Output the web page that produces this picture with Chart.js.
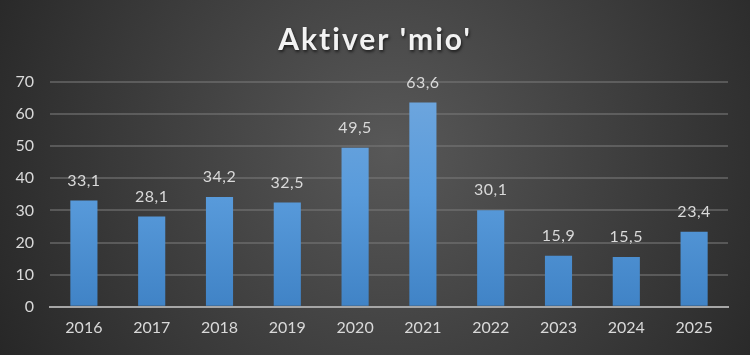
<!DOCTYPE html>
<html>
<head>
<meta charset="utf-8">
<script src="https://cdn.jsdelivr.net/npm/chart.js@4"></script>
<style>
  html, body { margin: 0; padding: 0; background: #3a3a3a; }
  #wrap { width: 750px; height: 355px; }
</style>
</head>
<body>
<div id="wrap"><canvas id="myChart"></canvas></div>
<script>
const years = ['2016', '2017', '2018', '2019', '2020', '2021', '2022', '2023', '2024', '2025'];
const aktiver = [33.1, 28.1, 34.2, 32.5, 49.5, 63.6, 30.1, 15.9, 15.5, 23.4];
const yTicks = [0, 10, 20, 30, 40, 50, 60, 70];
const chartTitle = "Aktiver 'mio'";

const fontFam = "Lato, 'Open Sans', sans-serif";

// dark radial background
const bgPlugin = {
    id: 'bg',
    beforeDraw(chart) {
        const c = chart.ctx, w = chart.width, h = chart.height;
        const g = c.createRadialGradient(w * 0.52, h * 0.42, 0, w * 0.52, h * 0.42, w * 0.6);
        g.addColorStop(0, '#585858');
        g.addColorStop(1, '#262626');
        c.save();
        c.fillStyle = g;
        c.fillRect(0, 0, w, h);
        c.restore();
    }
};

// title with shadow and letter spacing
const titlePlugin = {
    id: 'ttl',
    afterDraw(chart) {
        const c = chart.ctx;
        c.save();
        c.font = 'bold 30px ' + fontFam;
        if ('letterSpacing' in c) c.letterSpacing = '2px';
        c.fillStyle = '#f2f2f2';
        c.textAlign = 'center';
        c.textBaseline = 'middle';
        c.shadowColor = 'rgba(0,0,0,0.6)';
        c.shadowOffsetX = 1;
        c.shadowOffsetY = 2;
        c.shadowBlur = 3;
        c.fillText(chartTitle, chart.width / 2, 40);
        c.restore();
    }
};

// value labels above bars
const labelPlugin = {
    id: 'vals',
    afterDatasetsDraw(chart) {
        const c = chart.ctx;
        const meta = chart.getDatasetMeta(0);
        c.save();
        c.font = '16px ' + fontFam;
        if ('letterSpacing' in c) c.letterSpacing = '0.5px';
        c.fillStyle = '#d9d9d9';
        c.textAlign = 'center';
        c.textBaseline = 'bottom';
        meta.data.forEach((bar, i) => {
            c.fillText(aktiver[i].toFixed(1).replace('.', ','), bar.x, bar.y - 12);
        });
        c.restore();
    }
};

const ctx = document.getElementById('myChart');

var myChart = new Chart(ctx, {
    type: 'bar',
    data: {
        labels: years,
        datasets: [{
            label: 'Aktiver',
            data: aktiver,
            backgroundColor: function (context) {
                const area = context.chart.chartArea;
                if (!area) return '#5b9bd5';
                const g = context.chart.ctx.createLinearGradient(0, area.top, 0, area.bottom);
                g.addColorStop(0, '#70a7de');
                g.addColorStop(0.5, '#599bdb');
                g.addColorStop(1, '#4083c6');
                return g;
            },
            borderWidth: 0,
            categoryPercentage: 1,
            barPercentage: 0.4
        }]
    },
    options: {
        responsive: true,
        maintainAspectRatio: false,
        animation: false,
        layout: { padding: { left: 8, right: 22, top: 82, bottom: 15 } },
        plugins: {
            legend: { display: false },
            tooltip: { enabled: false },
            title: { display: false }
        },
        scales: {
            x: {
                grid: { display: false },
                border: { display: true, color: '#a6a6a6', width: 2 },
                ticks: { color: '#d9d9d9', font: { family: fontFam, size: 16 }, padding: 3 }
            },
            y: {
                min: 0,
                max: 70,
                afterBuildTicks(axis) { axis.ticks = yTicks.map(v => ({ value: v })); },
                afterFit(axis) { axis.width = 42; },
                grid: { color: 'rgba(120,120,120,0.55)', lineWidth: 2, drawTicks: false },
                border: { display: false },
                ticks: { color: '#d9d9d9', font: { family: fontFam, size: 16 }, padding: 16 }
            }
        }
    },
    plugins: [bgPlugin, labelPlugin, titlePlugin]
});
</script>
</body>
</html>
